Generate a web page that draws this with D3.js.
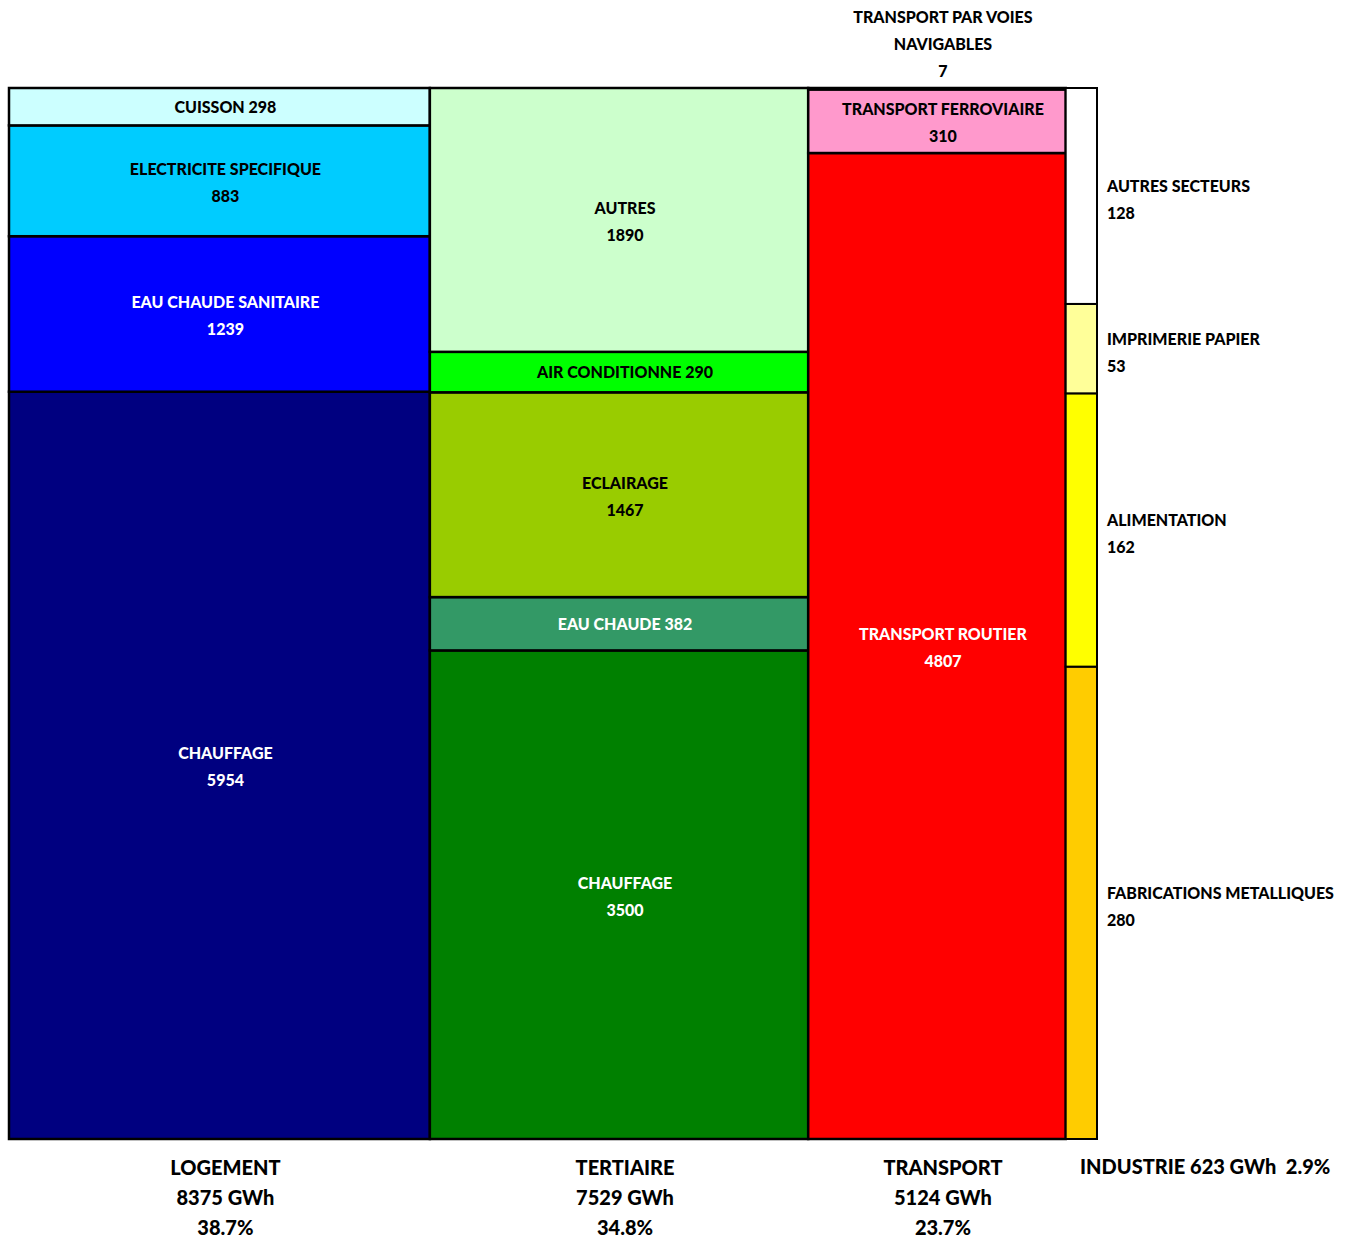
<!DOCTYPE html>
<html><head><meta charset="utf-8">
<script src="https://cdn.jsdelivr.net/npm/d3@7"></script>
<style>
html,body{margin:0;padding:0;background:#fff;}
text{font-family:Lato,"Open Sans",sans-serif;font-weight:900;}
</style></head>
<body><svg id="chart" width="1368" height="1240"></svg>
<script>
// Sectors (columns)
const sectors = ["LOGEMENT", "TERTIAIRE", "TRANSPORT", "INDUSTRIE"];
const sectorTotals = [8375, 7529, 5124, 623];
// Segments per sector, bottom to top
const logementUses = ["CHAUFFAGE", "EAU CHAUDE SANITAIRE", "ELECTRICITE SPECIFIQUE", "CUISSON"];
const logementValues = [5954, 1239, 883, 298];
const tertiaireUses = ["CHAUFFAGE", "EAU CHAUDE", "ECLAIRAGE", "AIR CONDITIONNE", "AUTRES"];
const tertiaireValues = [3500, 382, 1467, 290, 1890];
const transportUses = ["TRANSPORT ROUTIER", "TRANSPORT FERROVIAIRE", "TRANSPORT PAR VOIES NAVIGABLES"];
const transportValues = [4807, 310, 7];
const industrieUses = ["FABRICATIONS METALLIQUES", "ALIMENTATION", "IMPRIMERIE PAPIER", "AUTRES SECTEURS"];
const industrieValues = [280, 162, 53, 128];

const uses = [logementUses, tertiaireUses, transportUses, industrieUses];
const values = [logementValues, tertiaireValues, transportValues, industrieValues];

const colors = [
  ["#000080", "#0000FF", "#00CCFF", "#CCFFFF"],
  ["#008000", "#339966", "#99CC00", "#00FF00", "#CCFFCC"],
  ["#FF0000", "#FF99CC", "#FFFFFF"],
  ["#FFCC00", "#FFFF00", "#FFFF99", "#FFFFFF"]
];
const textColors = [
  ["#fff", "#fff", "#000", "#000"],
  ["#fff", "#fff", "#000", "#000", "#000"],
  ["#fff", "#000", "#000"],
  ["#000", "#000", "#000", "#000"]
];
const labelMode = [
  ["two", "two", "two", "one"],
  ["two", "one", "two", "one", "two"],
  ["two", "two", "above"],
  ["right", "right", "right", "right"]
];

(function () {
const svg = d3.select("#chart");
const grand = d3.sum(sectorTotals);
const pLeft = 9, pRight = 1097, pTop = 88, pBottom = 1139;
const x = d3.scaleLinear().domain([0, grand]).range([pLeft, pRight]);
const cum = d3.cumsum([0].concat(sectorTotals));

const gBars = svg.append("g");
const gText = svg.append("g");

sectors.forEach((s, i) => {
  const x0 = x(cum[i]), x1 = x(cum[i + 1]);
  const total = d3.sum(values[i]);
  const y = d3.scaleLinear().domain([0, total]).range([pBottom, pTop]);
  const stack = d3.cumsum([0].concat(values[i]));
  values[i].forEach((v, j) => {
    const y0 = y(stack[j]), y1 = y(stack[j + 1]);
    gBars.append("rect")
      .attr("x", x0).attr("y", y1)
      .attr("width", x1 - x0).attr("height", y0 - y1)
      .attr("fill", colors[i][j])
      .attr("stroke", "#000").attr("stroke-width", i === 3 ? 2 : 2.5);
    const cx = (x0 + x1) / 2 + (i < 3 ? 6 : 0), cy = (y0 + y1) / 2;
    const mode = labelMode[i][j];
    const name = uses[i][j];
    if (mode === "two") {
      const t = gText.append("text").attr("text-anchor", "middle")
        .attr("fill", textColors[i][j]).attr("font-size", 16);
      t.append("tspan").attr("x", cx).attr("y", cy - 6).text(name);
      t.append("tspan").attr("x", cx).attr("y", cy + 21).text(v);
    } else if (mode === "one") {
      gText.append("text").attr("text-anchor", "middle")
        .attr("fill", textColors[i][j]).attr("font-size", 16)
        .attr("x", cx).attr("y", cy + 6).text(name + " " + v);
    } else if (mode === "above") {
      const t = gText.append("text").attr("text-anchor", "middle")
        .attr("fill", "#000").attr("font-size", 16);
      const words = name.split(" ");
      t.append("tspan").attr("x", cx).attr("y", pTop - 65).text(words.slice(0, 3).join(" "));
      t.append("tspan").attr("x", cx).attr("y", pTop - 38).text(words.slice(3).join(" "));
      t.append("tspan").attr("x", cx).attr("y", pTop - 11).text(v);
    } else if (mode === "right") {
      const t = gText.append("text").attr("text-anchor", "start")
        .attr("fill", "#000").attr("font-size", 16);
      t.append("tspan").attr("x", x1 + 10).attr("y", cy - 4).text(name);
      t.append("tspan").attr("x", x1 + 10).attr("y", cy + 23).text(v);
    }
  });
  const pct = d3.format(".1f")(sectorTotals[i] / grand * 100) + "%";
  if (i < 3) {
    const cx = (x0 + x1) / 2 + 6;
    const t = gText.append("text").attr("text-anchor", "middle").attr("font-size", 20).attr("fill", "#000");
    t.append("tspan").attr("x", cx).attr("y", 1175).text(s);
    t.append("tspan").attr("x", cx).attr("y", 1205).text(sectorTotals[i] + " GWh");
    t.append("tspan").attr("x", cx).attr("y", 1235).text(pct);
  } else {
    gText.append("text").attr("text-anchor", "start").attr("font-size", 20).attr("fill", "#000")
      .attr("x", 1080).attr("y", 1174)
      .text(s + " " + sectorTotals[i] + " GWh\u00a0\u00a0" + pct);
  }
});
})();
</script>
</body></html>
